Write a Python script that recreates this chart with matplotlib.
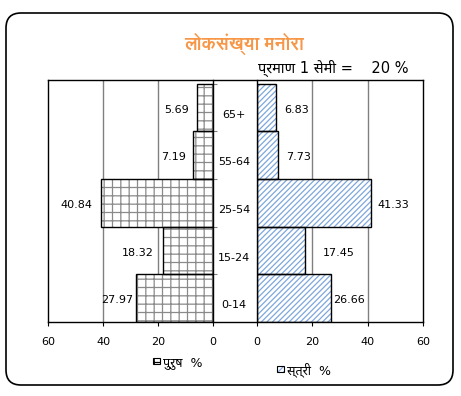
import matplotlib
matplotlib.use("Agg")
import matplotlib.pyplot as plt
from matplotlib.patches import FancyBboxPatch, Rectangle
from matplotlib.transforms import IdentityTransform, blended_transform_factory
from matplotlib import font_manager as fm

age_groups = ["0-14", "15-24", "25-54", "55-64", "65+"]
male = [27.97, 18.32, 40.84, 7.19, 5.69]
female = [26.66, 17.45, 41.33, 7.73, 6.83]
x_ticks = [60, 40, 20, 0]

title = "लोकसंख्या मनोरा"
scale_note = "प्रमाण 1 सेमी =    20 %"
male_label = "पुरुष  %"
female_label = "स्त्री  %"

# label gaps in px, as placed in the original
male_gap = [3, 9, 8, 7, 8]
female_gap = [2, 18, 6, 8, 8]

names = {f.name for f in fm.fontManager.ttflist}
deva = [n for n in ("Noto Sans Devanagari", "FreeSans") if n in names]
plt.rcParams["font.family"] = ["DejaVu Sans"] + deva
plt.rcParams["hatch.linewidth"] = 0.9

W, H = 461, 396
BLUE = "#7FA7DC"
DOTS = "#8A8A8A"
fig = plt.figure(figsize=(W / 100, H / 100), dpi=100)


def rect(x0, y0, x1, y1):
    return [x0 / W, 1 - y1 / H, (x1 - x0) / W, (y1 - y0) / H]


def fpos(px, py):
    return px / W, 1 - py / H


# outer rounded border
fig.add_artist(FancyBboxPatch((6, H - 385), 447, 372,
                              boxstyle="round,pad=0,rounding_size=15",
                              transform=IdentityTransform(),
                              facecolor="none", edgecolor="black", lw=1.2))

ylim = (-0.5, 4.58)
yy = list(range(len(age_groups)))

axl = fig.add_axes(rect(48, 80, 213, 322))
axr = fig.add_axes(rect(257, 80, 423, 322))

for ax in (axl, axr):
    ax.set_facecolor("none")
    ax.set_ylim(*ylim)
    for v in (20, 40):
        ax.axvline(v, color="#808080", lw=1, zorder=0.5)
    for s in ax.spines.values():
        s.set_visible(False)
    ax.set_xticks(x_ticks)
    ax.tick_params(axis="x", direction="out", length=3, labelsize=8,
                   pad=8, color="black")

axl.set_xlim(60, 0)
axr.set_xlim(0, 60)

axl.barh(yy, male, height=1.0, color="white", edgecolor=DOTS,
         linewidth=0, hatch="++")
axl.barh(yy, male, height=1.0, fill=False, edgecolor="black", linewidth=1.0)
axr.barh(yy, female, height=1.0, color="white", edgecolor=BLUE,
         linewidth=0, hatch="//////")
axr.barh(yy, female, height=1.0, fill=False, edgecolor="black", linewidth=1.0)

for i, v in enumerate(male):
    axl.annotate(f"{v:.2f}", xy=(v, i), xytext=(-male_gap[i] * 0.72, -2 * 0.72),
                 textcoords="offset points", ha="right", va="center", fontsize=8)
for i, v in enumerate(female):
    axr.annotate(f"{v:.2f}", xy=(v, i), xytext=(female_gap[i] * 0.72, -2 * 0.72),
                 textcoords="offset points", ha="left", va="center", fontsize=8)

# axis lines at zero
axl.spines["right"].set_visible(True)
axl.spines["right"].set_linewidth(1.0)
axr.spines["left"].set_visible(True)
axr.spines["left"].set_linewidth(1.0)
axl.set_yticks([i - 0.5 for i in range(len(age_groups) + 1)])
axl.yaxis.set_ticks_position("right")
axl.tick_params(axis="y", direction="out", length=3, color="#808080",
                labelright=False, labelleft=False)
axr.set_yticks([])

# plot-area frame spanning both halves
frame = fig.add_axes(rect(48, 80, 423, 322))
frame.set_facecolor("none")
frame.set_zorder(3)
frame.set_ylim(*ylim)
frame.set_xticks([])
frame.set_yticks([])
for s in frame.spines.values():
    s.set_linewidth(1.0)
tr = blended_transform_factory(frame.transAxes, frame.transData)
for i, g in enumerate(age_groups):
    frame.annotate(g, xy=(0.496, i), xycoords=tr, xytext=(0, -7 * 0.72),
                   textcoords="offset points", ha="center", va="center",
                   fontsize=8)

fig.text(*fpos(244, 44), title, ha="center", va="center", fontsize=13,
         fontweight="bold", color="#F79646", family=["FreeSans", "DejaVu Sans"])
fig.text(*fpos(258, 68), scale_note, ha="left", va="center", fontsize=10.5)

# legend keys
fig.add_artist(Rectangle(fpos(153, 364), 7 / W, 6 / H, transform=fig.transFigure,
                         facecolor="white", edgecolor="black", lw=0.8, hatch="++"))
fig.text(*fpos(163, 363), male_label, ha="left", va="center", fontsize=9)
fig.add_artist(Rectangle(fpos(277, 372), 7 / W, 6 / H, transform=fig.transFigure,
                         facecolor="white", edgecolor=BLUE, lw=0, hatch="//////"))
fig.add_artist(Rectangle(fpos(277, 372), 7 / W, 6 / H, transform=fig.transFigure,
                         fill=False, edgecolor="black", lw=0.8))
fig.text(*fpos(287, 370), female_label, ha="left", va="center", fontsize=9)

fig.savefig("out.png", dpi=100)
